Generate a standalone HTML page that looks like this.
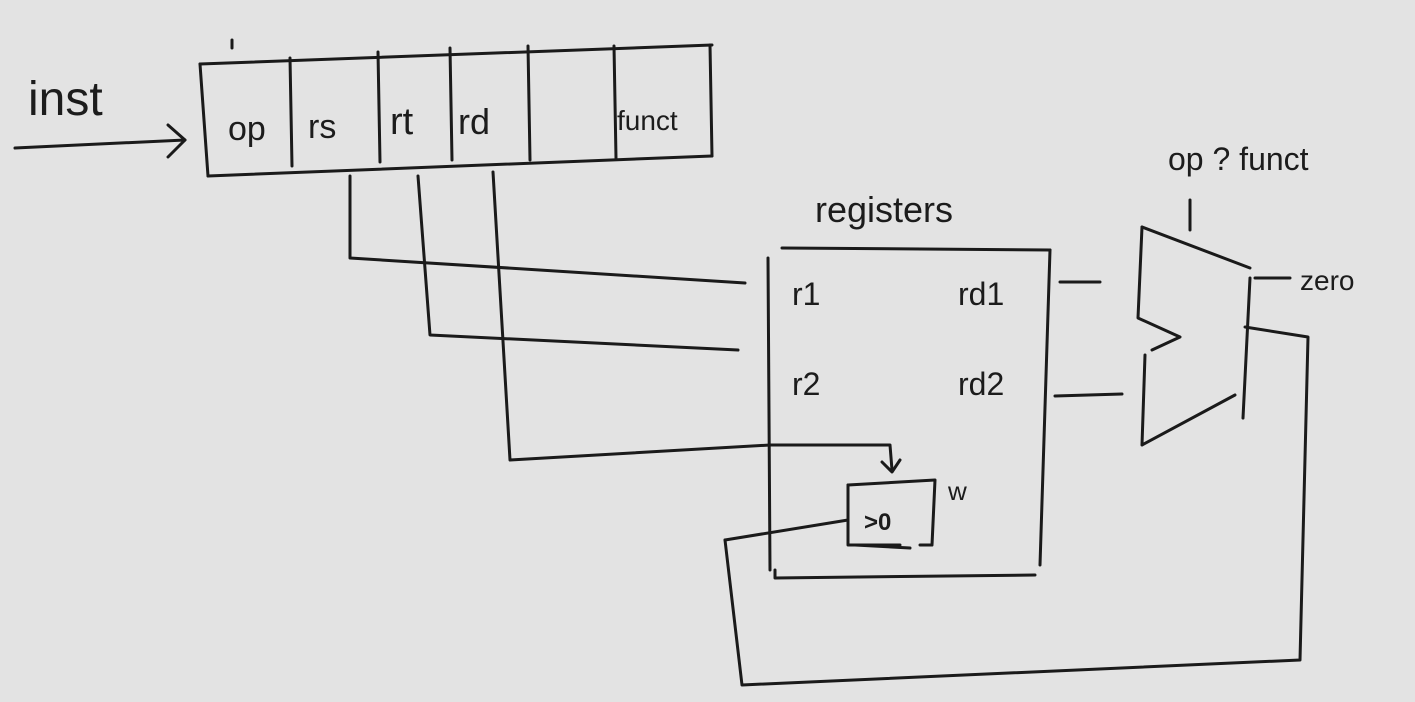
<!DOCTYPE html>
<html><head><meta charset="utf-8"><style>
html,body{margin:0;padding:0;background:#e3e3e3;}
svg{display:block}
text{font-family:"Liberation Sans",sans-serif;fill:#1c1c1c;}
</style></head><body>
<svg width="1415" height="702" viewBox="0 0 1415 702">
<rect width="1415" height="702" fill="#e3e3e3"/>
<g stroke="#1a1a1a" stroke-width="3" fill="none" stroke-linecap="round" stroke-linejoin="round">
 <g>
  <path d="M200 64 L712 45"/>
  <path d="M208 176 L712 156"/>
  <path d="M200 64 L208 176"/>
  <path d="M290 58 L292 166"/>
  <path d="M378 52 L380 162"/>
  <path d="M450 48 L452 160"/>
  <path d="M528 46 L530 160"/>
  <path d="M614 46 L616 158"/>
  <path d="M710 45 L712 156"/>
  <path d="M232 40 L232 48"/>
 </g>
 <g>
  <path d="M15 148 L185 140"/>
  <path d="M168 125 L185 140 L168 157"/>
 </g>
 <g>
  <path d="M350 176 L350 258 L745 283"/>
  <path d="M418 176 L430 335 L738 350"/>
  <path d="M493 172 L510 460 L770 445 L890 445 L892 470"/>
  <path d="M882 462 L892 472 L900 460"/>
  <path d="M725 540 L848 520"/>
  <path d="M725 540 L742 685 L1300 660 L1308 337 L1245 327"/>
  <path d="M1060 282 L1100 282"/>
  <path d="M1055 396 L1122 394"/>
  <path d="M1190 200 L1190 230"/>
  <path d="M1255 278 L1290 278"/>
 </g>
 <g>
  <path d="M782 248 L1050 250"/>
  <path d="M768 258 L770 570"/>
  <path d="M1050 250 L1040 565"/>
  <path d="M775 570 L775 578 L1035 575"/>
  <path d="M848 485 L848 545 L900 545"/>
  <path d="M848 485 L935 480 L932 545 L920 545"/>
  <path d="M855 545 L910 548"/>
 </g>
 <g>
  <path d="M1142 227 L1250 268"/>
  <path d="M1250 278 L1243 418"/>
  <path d="M1142 227 L1138 318 L1180 337 L1152 350"/>
  <path d="M1145 355 L1142 445 L1235 395"/>
 </g>
</g>
<text x="28" y="115" font-size="48">inst</text>
<text x="228" y="140" font-size="34">op</text>
<text x="308" y="138" font-size="34">rs</text>
<text x="390" y="134" font-size="38">rt</text>
<text x="458" y="134" font-size="36">rd</text>
<text x="617" y="130" font-size="28">funct</text>
<text x="815" y="222" font-size="36">registers</text>
<text x="792" y="305" font-size="32">r1</text>
<text x="958" y="305" font-size="32">rd1</text>
<text x="792" y="395" font-size="32">r2</text>
<text x="958" y="395" font-size="32">rd2</text>
<text x="864" y="530" font-size="24" font-weight="bold">&gt;0</text>
<text x="948" y="500" font-size="26">w</text>
<text x="1168" y="170" font-size="32">op ? funct</text>
<text x="1300" y="290" font-size="28">zero</text>
</svg>
</body></html>
